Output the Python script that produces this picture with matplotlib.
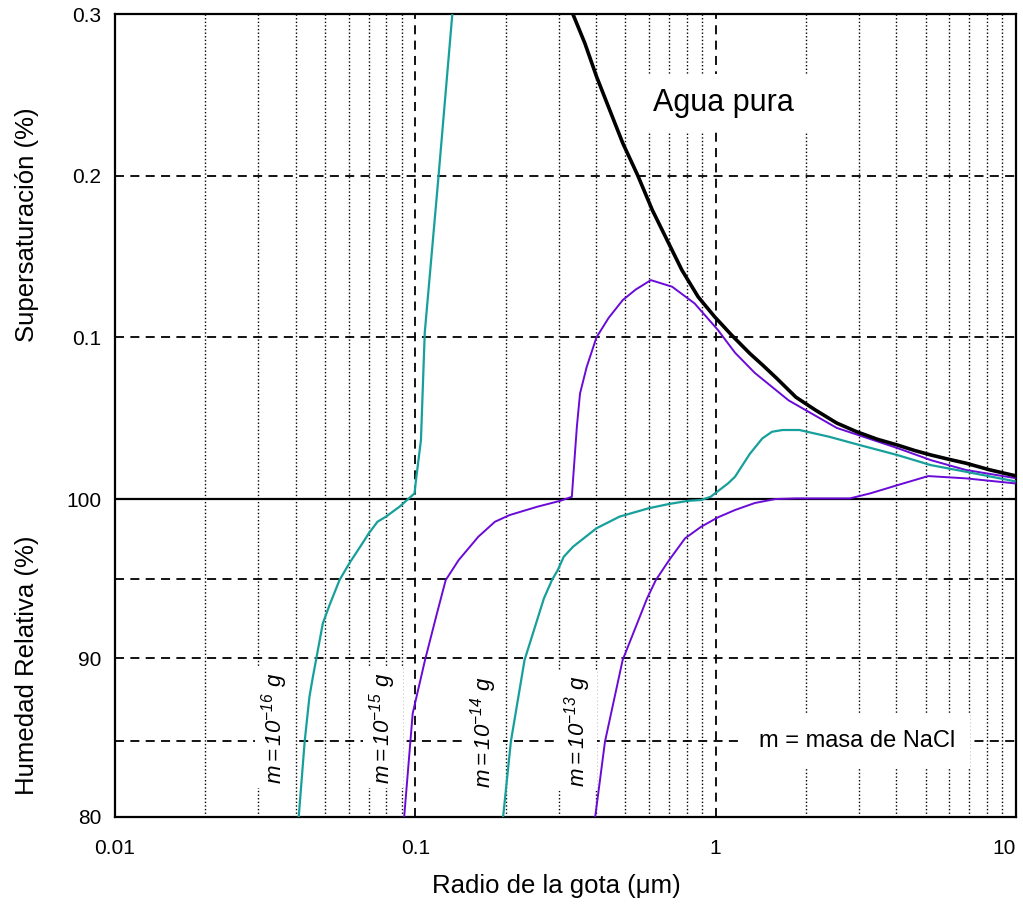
"""
Kohler curves: equilibrium humidity over NaCl solution droplets.
"""

import matplotlib
matplotlib.use('Agg')
import matplotlib.pyplot as plt
import matplotlib.ticker as mticker
import numpy as np

plt.rcParams['font.family'] = ['Liberation Sans', 'DejaVu Sans']
plt.rcParams['mathtext.fontset'] = 'custom'
plt.rcParams['mathtext.rm'] = 'Liberation Sans:italic'
plt.rcParams['mathtext.it'] = 'Liberation Sans:italic'

# humidity in % (values above 100 are 100 + supersaturation %)
agua_r = [0.3346, 0.367, 0.401, 0.4434, 0.4906, 0.5495, 0.6154, 0.6806, 0.7719,
          0.8747, 0.9925, 1.13, 1.30, 1.45, 1.60, 1.85, 2.15, 2.53, 2.95, 3.45,
          4.03, 4.6, 5.22, 6.0, 6.8, 8.2, 9.9]
agua_h = [100.300, 100.2818, 100.2614, 100.2408, 100.2201, 100.2004, 100.1787,
          100.1622, 100.1416, 100.1250, 100.1127, 100.1014, 100.090, 100.082,
          100.0745, 100.063, 100.055, 100.047, 100.0416, 100.037, 100.0334,
          100.030, 100.0272, 100.0245, 100.0222, 100.018, 100.0145]

m16_r = [0.0409, 0.0428, 0.0444, 0.0456, 0.0467, 0.0492, 0.0518, 0.0559, 0.0603,
         0.0650, 0.0700, 0.0748, 0.0798, 0.0886, 0.0994, 0.1005, 0.1044, 0.1075,
         0.1195, 0.1328]
m16_h = [80.0, 84.73, 87.56, 88.82, 89.87, 92.18, 93.33, 94.9, 95.96,
         96.9, 97.84, 98.57, 98.89, 99.52, 100.0035, 100.0117, 100.0365, 100.103,
         100.200, 100.300]

m15_r = [0.0918, 0.098, 0.1077, 0.118, 0.1262, 0.1394, 0.1621, 0.184, 0.2059,
         0.2551, 0.304, 0.332, 0.335, 0.345, 0.3535, 0.372, 0.401, 0.440, 0.4906,
         0.542, 0.6085, 0.7165, 0.8507, 1.018, 1.16, 1.35, 1.75, 2.53, 4.03, 5.22,
         6.8, 9.9]
m15_h = [80.0, 86.52, 89.87, 92.8, 94.9, 96.16, 97.63, 98.57, 98.99,
         99.52, 99.89, 100.0014, 100.0117, 100.0447, 100.0653, 100.0817, 100.100,
         100.112, 100.1231, 100.1296, 100.1354, 100.1313, 100.121, 100.1045,
         100.0905, 100.078, 100.061, 100.044, 100.0315, 100.024, 100.018, 100.013]

m14_r = [0.196, 0.208, 0.231, 0.268, 0.285, 0.298, 0.312, 0.335, 0.401, 0.478,
         0.598, 0.70, 0.811, 0.895, 0.962, 1.10, 1.16, 1.30, 1.43, 1.54, 1.67,
         1.90, 2.39, 3.0, 4.03, 5.2, 6.8, 9.9]
m14_h = [80.0, 84.74, 89.87, 93.75, 94.9, 95.53, 96.37, 97.0, 98.16, 98.89,
         99.42, 99.69, 99.89, 99.94, 100.0014, 100.0097, 100.0138, 100.028,
         100.0375, 100.0416, 100.0427, 100.0427, 100.0385, 100.0335, 100.0272,
         100.021, 100.0169, 100.011]

m13_r = [0.397, 0.428, 0.490, 0.591, 0.632, 0.700, 0.791, 0.895, 1.018, 1.16,
         1.35, 1.58, 1.85, 2.80, 3.27, 4.1, 5.1, 6.8, 9.9]
m13_h = [80.0, 84.74, 89.87, 93.75, 94.9, 96.16, 97.53, 98.26, 98.85, 99.31,
         99.75, 100.0, 100.0004, 100.0004, 100.0035, 100.009, 100.0142, 100.0128,
         100.0097]

x_ticks = [0.01, 0.1, 1, 10]
x_labels = ['0.01', '0.1', '1', '10']
y_ticks = [80, 90, 100, 100.1, 100.2, 100.3]
y_labels = ['80', '90', '100', '0.1', '0.2', '0.3']
dashed_h = [84.8, 90, 95, 100.1, 100.2]

TEAL = '#17A09B'
PURPLE = '#6A0AD8'


def fwd(y):
    y = np.asarray(y, dtype=float)
    return np.where(y < 100, (y - 100) * 15.9, (y - 100) * 1617.0)


def inv(v):
    v = np.asarray(v, dtype=float)
    return np.where(v < 0, v / 15.9 + 100, v / 1617.0 + 100)


fig = plt.figure(figsize=(10.23, 9.09), dpi=100)
ax = fig.add_axes([115 / 1023, 92 / 909, 901 / 1023, 803 / 909])
ax.set_xscale('log')
ax.set_yscale('function', functions=(fwd, inv))
ax.set_xlim(0.01, 10)
ax.set_ylim(80, 100.3)

# grid
ax.xaxis.set_minor_locator(mticker.LogLocator(base=10, subs=np.arange(2, 10)))
ax.xaxis.set_minor_formatter(mticker.NullFormatter())
ax.grid(which='minor', axis='x', ls=(0, (1, 1.6)), color='k', lw=1.0, zorder=1)
for xv in [0.1, 1]:
    ax.axvline(xv, ls=(0, (5, 3.5)), color='k', lw=1.3, zorder=1)
for yv in dashed_h:
    ax.axhline(yv, ls=(0, (5, 3.5)), color='k', lw=1.3, zorder=1)
ax.axhline(100, color='k', lw=1.6, zorder=2)

# curves
ax.plot(agua_r, agua_h, color='k', lw=2.6, zorder=5)
ax.plot(m16_r, m16_h, color=TEAL, lw=1.6, zorder=4)
ax.plot(m15_r, m15_h, color=PURPLE, lw=1.4, zorder=4)
ax.plot(m14_r, m14_h, color=TEAL, lw=1.6, zorder=4)
ax.plot(m13_r, m13_h, color=PURPLE, lw=1.4, zorder=4)

box = dict(facecolor='white', edgecolor='none', pad=3)
ax.text(0.62, 100.245, 'Agua pura', fontsize=22, ha='left', va='center',
        bbox=dict(facecolor='white', edgecolor='none', pad=10), zorder=3)
ax.text(2.95, 84.8, 'm = masa de NaCl', fontsize=17, ha='center', va='center',
        bbox=dict(facecolor='white', edgecolor='none', pad=11), zorder=3)
for xv, yv, ex in [(0.0339, 85.6, '-16'), (0.078, 85.6, '-15'),
                   (0.169, 85.3, '-14'), (0.346, 85.4, '-13')]:
    ax.text(xv, yv, r'$m{=}10^{%s}\ g$' % ex, fontsize=16, rotation=90,
            ha='center', va='center', bbox=box, zorder=3)

ax.set_xticks(x_ticks)
ax.set_xticklabels(x_labels)
ax.set_yticks(y_ticks)
ax.set_yticklabels(y_labels)
ax.tick_params(which='both', length=0, labelsize=15)
ax.tick_params(axis='x', pad=16)
ax.tick_params(axis='y', pad=10)
ax.get_xticklabels()[-1].set_horizontalalignment('right')
for s in ax.spines.values():
    s.set_linewidth(1.6)

fig.text(556 / 1023, 1 - 886 / 909, 'Radio de la gota (μm)',
         fontsize=18.5, ha='center', va='center')
fig.text(27 / 1023, 1 - 225 / 909, 'Supersaturación (%)', fontsize=18.5,
         rotation=90, ha='center', va='center')
fig.text(27 / 1023, 1 - 665 / 909, 'Humedad Relativa (%)', fontsize=18.5,
         rotation=90, ha='center', va='center')

plt.savefig('out.png', dpi=100)
plt.close()
